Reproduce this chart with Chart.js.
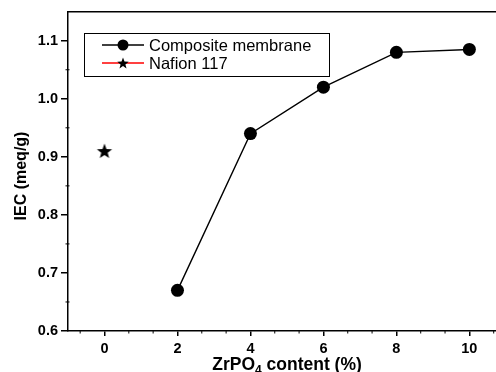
<!DOCTYPE html>
<html>
<head>
<meta charset="utf-8">
<script src="https://cdn.jsdelivr.net/npm/chart.js@4.4.1/dist/chart.umd.min.js"></script>
<style>
  html, body { margin: 0; padding: 0; background: #fff; overflow: hidden; }
  #wrap { width: 496px; height: 372px; overflow: hidden; }
</style>
</head>
<body>
<!-- canvas is a little larger than the view: the original figure is cropped on the right and bottom -->
<div id="wrap"><canvas id="iecChart" width="505" height="380"></canvas></div>
<script>
// values
const zrContent = [2, 4, 6, 8, 10];
const iecComposite = [0.67, 0.94, 1.02, 1.08, 1.085];
const nafionContent = [0];
const iecNafion = [0.91];
const xTickValues = [0, 2, 4, 6, 8, 10];
const yTickValues = [0.6, 0.7, 0.8, 0.9, 1.0, 1.1];

const FONT = "'Liberation Sans', Arial, sans-serif";

// filled five pointed star used as marker
function makeStar(r) {
    const c = document.createElement('canvas');
    const s = Math.ceil(r * 2) + 2;
    c.width = s; c.height = s;
    const g = c.getContext('2d');
    g.beginPath();
    for (let i = 0; i < 10; i++) {
        const rad = i % 2 ? r * 0.42 : r;
        const a = -Math.PI / 2 + i * Math.PI / 5;
        g.lineTo(s / 2 + rad * Math.cos(a), s / 2 + 0.6 + rad * Math.sin(a));
    }
    g.closePath();
    g.fillStyle = '#000';
    g.fill();
    return c;
}
const bigStar = makeStar(8);
const smallStar = makeStar(6);

// top frame line, minor ticks and axis titles
const framePlugin = {
    id: 'frame',
    afterDraw(chart) {
        const ctx = chart.ctx;
        const a = chart.chartArea;
        const xs = chart.scales.x, ys = chart.scales.y;
        ctx.save();
        ctx.strokeStyle = '#000';
        ctx.lineWidth = 1.5;
        ctx.beginPath();
        ctx.moveTo(a.left - 0.75, a.top);
        ctx.lineTo(a.right + 2, a.top);
        ctx.stroke();

        ctx.lineWidth = 1;
        ctx.beginPath();
        for (let k = -1; k <= 16; k++) {
            if (k % 3 === 0) continue;
            const px = xs.getPixelForValue(k * 2 / 3);
            if (px <= a.left + 2 || px >= a.right) continue;
            ctx.moveTo(px, a.bottom - 1);
            ctx.lineTo(px, a.bottom + 2.5);
        }
        for (let v = 0.65; v < 1.14; v += 0.1) {
            const py = ys.getPixelForValue(v);
            ctx.moveTo(a.left - 2.5, py);
            ctx.lineTo(a.left + 1.5, py);
        }
        ctx.stroke();

        // x title with a real subscript
        ctx.fillStyle = '#000';
        ctx.textBaseline = 'alphabetic';
        ctx.textAlign = 'left';
        const big = 'bold 17.5px ' + FONT, small = 'bold 12px ' + FONT;
        const parts = [['ZrPO', big, 0], ['4', small, 4], [' content (%)', big, 0]];
        let w = 0;
        parts.forEach(p => { ctx.font = p[1]; w += ctx.measureText(p[0]).width; });
        let x = 287 - w / 2;
        const base = 370;
        parts.forEach(p => {
            ctx.font = p[1];
            ctx.fillText(p[0], x, base + p[2]);
            x += ctx.measureText(p[0]).width;
        });

        // y title
        ctx.save();
        ctx.translate(26, 176);
        ctx.rotate(-Math.PI / 2);
        ctx.textAlign = 'center';
        ctx.font = 'bold 16px ' + FONT;
        ctx.fillText('IEC (meq/g)', 0, 0);
        ctx.restore();
        ctx.restore();
    }
};

// boxed legend inside the plot, Origin style
const legendPlugin = {
    id: 'boxLegend',
    afterDraw(chart) {
        const ctx = chart.ctx;
        const ds = chart.data.datasets;
        ctx.save();
        ctx.strokeStyle = '#000';
        ctx.lineWidth = 1;
        ctx.strokeRect(84.5, 33.5, 245, 43);
        const rows = [45, 63];
        ds.forEach((d, i) => {
            const y = rows[i];
            ctx.strokeStyle = d.borderColor;
            ctx.lineWidth = 1.3;
            ctx.beginPath();
            ctx.moveTo(102, y);
            ctx.lineTo(144, y);
            ctx.stroke();
            if (i === 0) {
                ctx.fillStyle = '#000';
                ctx.beginPath();
                ctx.arc(123, y, 5.5, 0, Math.PI * 2);
                ctx.fill();
            } else {
                ctx.drawImage(smallStar, 123 - smallStar.width / 2, y - smallStar.height / 2);
            }
            ctx.fillStyle = '#000';
            ctx.font = '16.5px ' + FONT;
            ctx.textBaseline = 'middle';
            ctx.textAlign = 'left';
            ctx.fillText(d.label, 149, y + 1);
        });
        ctx.restore();
    }
};

const ctx = document.getElementById('iecChart').getContext('2d');
new Chart(ctx, {
    type: 'line',
    data: {
        datasets: [{
            label: 'Composite membrane',
            data: zrContent.map((x, i) => ({ x: x, y: iecComposite[i] })),
            borderColor: '#000',
            backgroundColor: '#000',
            borderWidth: 1.4,
            pointRadius: 6.5,
            pointHoverRadius: 6.5,
            pointBackgroundColor: '#000',
            pointBorderWidth: 0,
            tension: 0,
            fill: false
        }, {
            label: 'Nafion 117',
            data: nafionContent.map((x, i) => ({ x: x, y: iecNafion[i] })),
            borderColor: '#ff0000',
            backgroundColor: '#000',
            showLine: false,
            pointStyle: bigStar,
            pointRadius: 8
        }]
    },
    options: {
        responsive: false,
        animation: false,
        events: [],
        layout: { padding: { top: 9, left: 0, right: 0, bottom: 0 } },
        plugins: {
            legend: { display: false },
            tooltip: { enabled: false }
        },
        scales: {
            x: {
                type: 'linear',
                min: -1,
                max: 10.73,
                afterBuildTicks: s => { s.ticks = xTickValues.map(v => ({ value: v })); },
                afterFit: s => { s.height = 49; },
                grid: { drawOnChartArea: false, drawTicks: true, tickLength: 5, color: '#000', lineWidth: 1.5 },
                border: { color: '#000', width: 1.5 },
                ticks: {
                    color: '#000',
                    padding: 4,
                    maxRotation: 0,
                    font: { family: FONT, size: 14.5, weight: 'bold' },
                    callback: v => String(v)
                }
            },
            y: {
                min: 0.6,
                max: 1.15,
                afterBuildTicks: s => { s.ticks = yTickValues.map(v => ({ value: v })); },
                afterFit: s => { s.width = 68; },
                grid: { drawOnChartArea: false, drawTicks: true, tickLength: 7, color: '#000', lineWidth: 1.5 },
                border: { color: '#000', width: 1.5 },
                ticks: {
                    color: '#000',
                    padding: 3,
                    font: { family: FONT, size: 14.5, weight: 'bold' },
                    callback: v => v.toFixed(1)
                }
            }
        }
    },
    plugins: [framePlugin, legendPlugin]
});
</script>
</body>
</html>
